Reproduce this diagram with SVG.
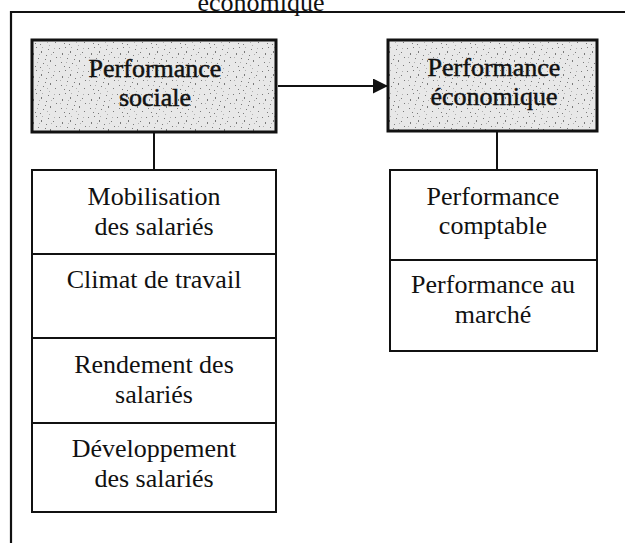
<svg xmlns="http://www.w3.org/2000/svg" width="625" height="543" viewBox="0 0 625 543">
  <style>
    text { font-family: "Liberation Serif", "Times New Roman", serif; font-size: 26px; fill: #111; text-anchor: middle; }
    .bold { stroke: #111; stroke-width: 0.5; }
    .frame { fill: none; stroke: #111; stroke-width: 2.2; }
    .head { fill: url(#grain); stroke: #111; stroke-width: 3; }
    .item { fill: #fff; stroke: #111; stroke-width: 2; }
    .link { fill: none; stroke: #111; stroke-width: 2; }
  </style>
  <defs>
    <!-- speckled grey texture of the shaded heading boxes -->
    <pattern id="grain" width="29" height="23" patternUnits="userSpaceOnUse">
      <rect width="29" height="23" fill="#e8e8e8"/>
      <g fill="#7a7a7a">
        <rect x="1" y="2" width="1" height="1"/><rect x="4" y="7" width="1" height="2"/>
        <rect x="7" y="1" width="1" height="1"/><rect x="9" y="12" width="1" height="1"/>
        <rect x="12" y="5" width="1" height="2"/><rect x="14" y="17" width="1" height="1"/>
        <rect x="17" y="9" width="1" height="1"/><rect x="19" y="3" width="1" height="1"/>
        <rect x="21" y="14" width="1" height="2"/><rect x="24" y="6" width="1" height="1"/>
        <rect x="26" y="19" width="1" height="1"/><rect x="3" y="16" width="1" height="1"/>
        <rect x="6" y="20" width="1" height="1"/><rect x="11" y="21" width="1" height="1"/>
        <rect x="16" y="13" width="1" height="1"/><rect x="27" y="11" width="1" height="1"/>
      </g>
      <g fill="#b0b0b0">
        <rect x="2" y="11" width="1" height="1"/><rect x="8" y="16" width="1" height="1"/>
        <rect x="13" y="1" width="1" height="1"/><rect x="18" y="19" width="1" height="1"/>
        <rect x="22" y="8" width="1" height="1"/><rect x="25" y="2" width="1" height="1"/>
        <rect x="10" y="8" width="1" height="1"/><rect x="20" y="22" width="1" height="1"/>
      </g>
    </pattern>
    <marker id="arrow" viewBox="0 0 10 10" refX="10" refY="5" markerWidth="17" markerHeight="15" markerUnits="userSpaceOnUse" orient="auto">
      <path d="M0,0 L10,5 L0,10 Z" fill="#111"/>
    </marker>
  </defs>

  <!-- outer frame with its caption -->
  <g id="frame">
    <text x="261" y="11">économique</text>
    <path class="frame" d="M11,543 V12 H625"/>
  </g>

  <!-- connectors -->
  <g id="connectors">
    <line class="link" x1="278" y1="86" x2="388" y2="86" marker-end="url(#arrow)"/>
    <line class="link" x1="154" y1="132" x2="154" y2="170"/>
    <line class="link" x1="497" y1="131" x2="497" y2="170"/>
  </g>

  <!-- heading boxes -->
  <g id="perf-sociale">
    <rect class="head" x="32" y="40" width="244" height="92"/>
    <text class="bold" x="155" y="77">Performance</text>
    <text class="bold" x="155" y="106">sociale</text>
  </g>
  <g id="perf-economique">
    <rect class="head" x="388" y="40" width="209" height="91"/>
    <text class="bold" x="494" y="76">Performance</text>
    <text class="bold" x="494" y="105">économique</text>
  </g>

  <!-- social dimensions -->
  <g id="mobilisation">
    <rect class="item" x="32" y="170" width="244" height="84"/>
    <text x="154" y="205">Mobilisation</text>
    <text x="154" y="235">des salariés</text>
  </g>
  <g id="climat">
    <rect class="item" x="32" y="254" width="244" height="84"/>
    <text x="154" y="288">Climat de travail</text>
  </g>
  <g id="rendement">
    <rect class="item" x="32" y="338" width="244" height="85"/>
    <text x="154" y="373">Rendement des</text>
    <text x="154" y="403">salariés</text>
  </g>
  <g id="developpement">
    <rect class="item" x="32" y="423" width="244" height="89"/>
    <text x="154" y="457">Développement</text>
    <text x="154" y="487">des salariés</text>
  </g>

  <!-- economic dimensions -->
  <g id="comptable">
    <rect class="item" x="390" y="170" width="207" height="90"/>
    <text x="493" y="205">Performance</text>
    <text x="493" y="234">comptable</text>
  </g>
  <g id="marche">
    <rect class="item" x="390" y="260" width="207" height="91"/>
    <text x="493" y="293">Performance au</text>
    <text x="493" y="323">marché</text>
  </g>
</svg>
